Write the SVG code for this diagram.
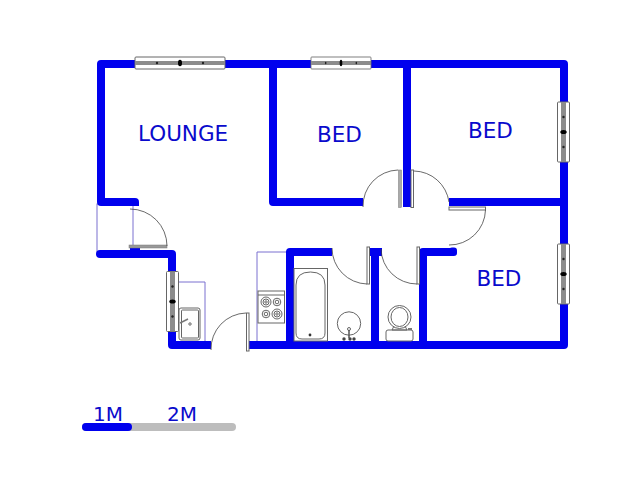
<svg xmlns="http://www.w3.org/2000/svg" width="640" height="480" viewBox="0 0 640 480">
<style>
.w{fill:none;stroke:#0000ee;stroke-width:8;stroke-linejoin:round;stroke-linecap:butt}
.r{stroke-linecap:round}
.t{font-family:"DejaVu Sans",sans-serif;font-size:21.5px;fill:#0a0acc}
.s{font-family:"DejaVu Sans",sans-serif;font-size:20px;fill:#0a0acc}
.f{fill:#fff;stroke:#666;stroke-width:1}
.g{fill:none;stroke:#666;stroke-width:1}
.a{fill:none;stroke:#444;stroke-width:.8}
.l{fill:none;stroke:#7a70d0;stroke-width:1}
.p{fill:#fff;stroke:#666;stroke-width:1}
</style>
<defs>
<g id="winH">
<rect x="-45" y="-6" width="90" height="12" rx="1" class="f"/>
<rect x="-45" y="-2" width="90" height="4" fill="#8c8c8c"/>
<ellipse cx="0" cy="0" rx="2" ry="3.2" fill="#000"/>
<circle cx="-23" cy="0" r="1.2" fill="#222"/><circle cx="23" cy="0" r="1.2" fill="#222"/>
</g>
<g id="winV">
<rect x="-6" y="-30" width="12" height="60" rx="1" class="f"/>
<rect x="-2.5" y="-30" width="5" height="60" fill="#8c8c8c"/>
<ellipse cx="0" cy="0" rx="3.2" ry="2" fill="#000"/>
<circle cx="0" cy="-15" r="1.2" fill="#222"/><circle cx="0" cy="15" r="1.2" fill="#222"/>
</g>
</defs>
<g id="fixtures-lines">
<rect x="97" y="204" width="36" height="48" class="l"/>
<path d="M178 282H205V344" class="l"/>
<path d="M257 344V252H288" class="l"/>
</g>
<g id="connectors">
<path class="w" d="M139 64H101V202H135V206"/>
<path class="w" d="M135 64H564V345H249"/>
<path class="w r" d="M100 254H172V272"/>
<path class="w" d="M172 332V345H211"/>
<path class="w" d="M273 64V202H363"/>
<path class="w" d="M407 64V207"/>
<path class="w" d="M449 202H564"/>
<path class="w" d="M332 252H290V345"/>
<path class="w" d="M370 252H382M375 252V345"/>
<path class="w" d="M423 345V252H454"/>
<rect x="449" y="247.500" width="8" height="8.500" rx="3" fill="#0000ee"/>
<rect x="130" y="247" width="10" height="4" fill="#0000ee"/>
</g>
<g id="window-top-1"><use href="#winH" x="180" y="63"/></g>
<g id="window-top-2"><use href="#winH" transform="translate(341 63) scale(.667 1)"/></g>
<g id="window-right-1"><use href="#winV" x="563.500" y="132"/></g>
<g id="window-right-2"><use href="#winV" x="563.500" y="274"/></g>
<g id="window-left"><use href="#winV" x="172.500" y="301.500"/></g>
<g id="door-entry-lounge">
<rect x="129" y="245" width="38" height="3" fill="#999" stroke="#777" stroke-width=".5"/>
<path class="a" d="M130 209A37 37 0 0 1 167 246"/>
</g>
<g id="door-front">
<rect x="246.500" y="313" width="2.500" height="38" class="p"/>
<path class="a" d="M246 313A36 36 0 0 0 211 350"/>
</g>
<g id="door-bed-left">
<rect x="398.500" y="170" width="3" height="37.500" fill="#aaa" stroke="#777" stroke-width=".5"/>
<path class="a" d="M363 207A36 36 0 0 1 398 170"/>
</g>
<g id="door-bed-right">
<rect x="411" y="170" width="2.500" height="37.500" class="p"/>
<path class="a" d="M414 171A36 36 0 0 1 449 202"/>
</g>
<g id="door-bed-3">
<rect x="449" y="207" width="36.500" height="3" class="p"/>
<path class="a" d="M485.500 210A36 36 0 0 1 449 245"/>
</g>
<g id="door-bath">
<rect x="367" y="247" width="2.500" height="37" class="p"/>
<path class="a" d="M332 248A36 36 0 0 0 367 284"/>
</g>
<g id="door-wc">
<rect x="417" y="247" width="2.500" height="37" class="p"/>
<path class="a" d="M381 249A36 36 0 0 0 417 284"/>
</g>
<g id="sink">
<rect x="179" y="308" width="21" height="32" rx="2" class="g"/>
<rect x="181.500" y="310" width="17" height="28" rx="1" class="g"/>
<path d="M180 323L188 319" stroke="#777" stroke-width="1.500"/>
<circle cx="190" cy="324" r="1.200" class="g"/>
</g>
<g id="stove">
<rect x="258" y="291" width="26.500" height="32" class="g"/>
<path d="M258 295H284.500" class="g"/>
<g class="g" stroke-width=".8"><circle cx="266" cy="302" r="5"/><circle cx="266" cy="302" r="3"/><circle cx="266" cy="302" r="1.200"/><circle cx="277" cy="302" r="3.800"/><circle cx="277" cy="302" r="1.800"/><circle cx="266" cy="314" r="3.800"/><circle cx="266" cy="314" r="1.800"/><circle cx="277" cy="314" r="5"/><circle cx="277" cy="314" r="3"/><circle cx="277" cy="314" r="1.200"/></g>
</g>
<g id="bath">
<rect x="294" y="268.500" width="33.500" height="72.500" class="g"/>
<path class="g" d="M296 285Q296 272 310.500 272Q325 272 325 285V333Q325 339 319 339H302Q296 339 296 333Z"/>
<circle cx="310" cy="335" r="1.400" fill="#333"/>
</g>
<g id="basin">
<circle cx="349" cy="323.500" r="11.700" class="g"/>
<circle cx="349" cy="329" r="1.500" class="g"/>
<path d="M349 330V338" stroke="#555" stroke-width="1.500"/>
<circle cx="344" cy="339" r="1.700" fill="#444"/><circle cx="350" cy="339" r="1.700" fill="#444"/><circle cx="354" cy="339" r="1.700" fill="#444"/>
</g>
<g id="toilet">
<ellipse cx="399.500" cy="317" rx="11.500" ry="11.500" class="g"/>
<ellipse cx="399.500" cy="317" rx="8.500" ry="9.500" class="g"/>
<path class="g" d="M394 326L392 330H407L405 326"/>
<rect x="386" y="330" width="27" height="11" rx="2" class="g"/>
<rect x="408" y="328" width="4" height="2" fill="#777"/>
</g>
<g id="labels">
<text class="t" x="138" y="140.500">LOUNGE</text>
<text class="t" x="317" y="142">BED</text>
<text class="t" x="468" y="138">BED</text>
<text class="t" x="476.500" y="286">BED</text>
<text class="s" x="93" y="421">1M</text>
<text class="s" x="167" y="421">2M</text>
</g>
<g id="scale">
<path d="M86 427H232" stroke="#bdbdbd" stroke-width="8" stroke-linecap="round"/>
<path d="M86 427H128" stroke="#0000ee" stroke-width="8" stroke-linecap="round"/>
</g>
</svg>
